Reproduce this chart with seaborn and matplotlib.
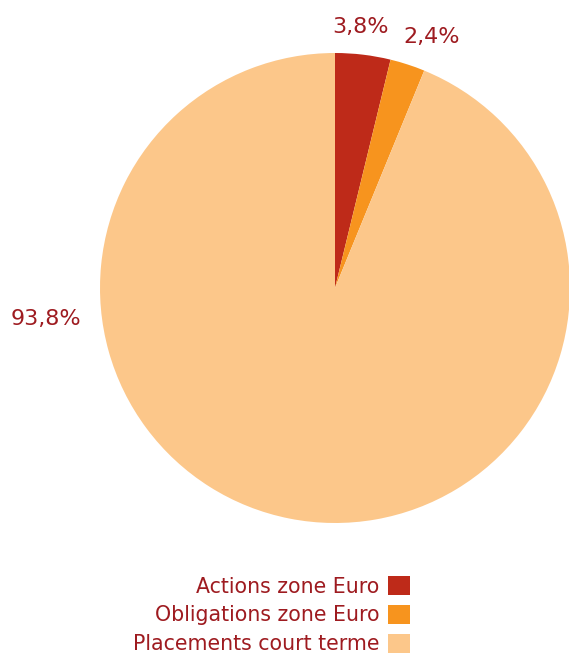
import numpy as np
import pandas as pd
import seaborn as sns
import matplotlib.pyplot as plt
from matplotlib.patches import Patch

# allocation data
categories = ['Actions zone Euro', 'Obligations zone Euro', 'Placements court terme']
shares = [3.8, 2.4, 93.8]
share_labels = ['3,8%', '2,4%', '93,8%']
colors = ['#BE2A19', '#F7941E', '#FCC78A']
text_color = '#9E1B20'

# where each percentage label sits (pie units, radius = 1)
label_pos = [(0.11, 1.11), (0.41, 1.07), (-1.23, -0.13)]

sns.set_theme(style='white')
plt.rcParams['font.family'] = ['DejaVu Sans']

df = pd.DataFrame({'category': categories, 'share': shares})

fig = plt.figure(figsize=(5.69, 6.53), dpi=100)
ax = fig.add_axes([100 / 569, 130 / 653, 470 / 569, 470 / 653])
ax.pie(df['share'], colors=colors, startangle=90, counterclock=False,
       radius=1, wedgeprops=dict(linewidth=0))
ax.set_xlim(-1, 1)
ax.set_ylim(-1, 1)
ax.set_aspect('equal')
ax.axis('off')

for lab, (x, y) in zip(share_labels, label_pos):
    ax.text(x, y, lab, ha='center', va='center', fontsize=16, color=text_color)

handles = [Patch(facecolor=c, edgecolor='none') for c in colors]
leg = fig.legend(handles, categories, loc='upper right',
                 bbox_to_anchor=(410 / 569, 1 - 576 / 653),
                 frameon=False, markerfirst=False, fontsize=14.8,
                 handlelength=1.05, handleheight=1.05, handletextpad=0.45,
                 labelspacing=0.4, borderpad=0, borderaxespad=0)
for t in leg.get_texts():
    t.set_color(text_color)

fig.savefig('out.png', dpi=100)
